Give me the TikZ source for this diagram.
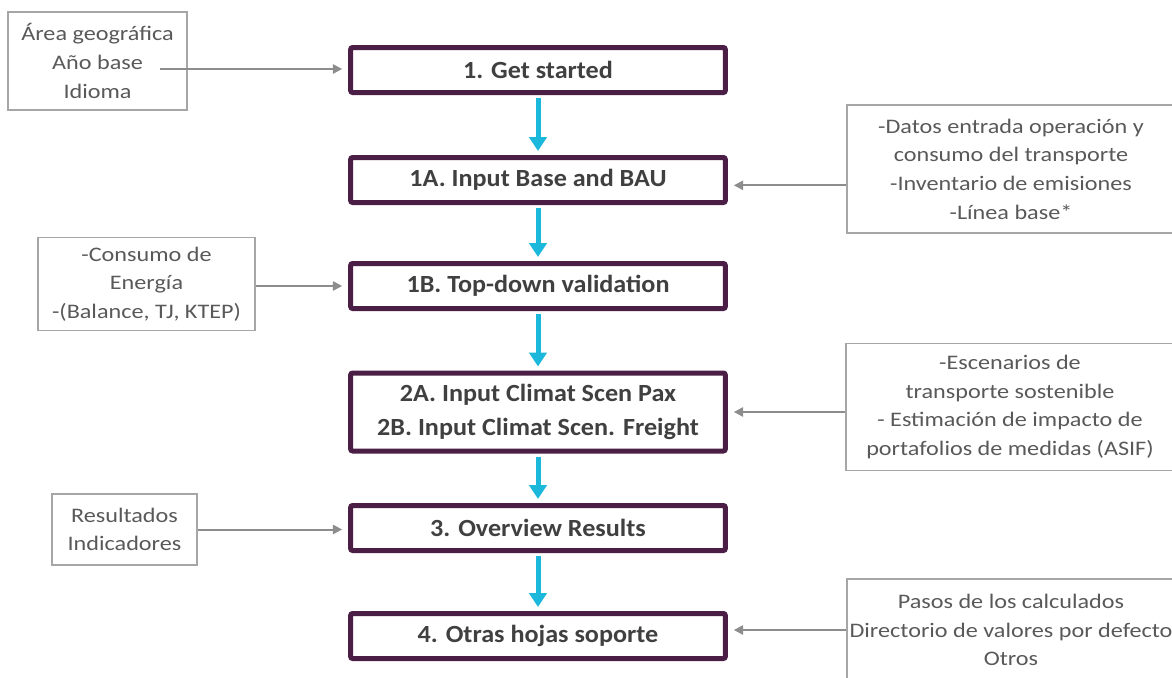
\documentclass[tikz,border=0pt]{standalone}
\usepackage{fontspec}
\setmainfont{Carlito}[FakeStretch=1.06]
\newfontfamily\notefont{Carlito}[FakeStretch=1.17]
\definecolor{plum}{HTML}{4B1F45}
\definecolor{sky}{HTML}{1BB8DC}
\definecolor{ink}{HTML}{404040}
\definecolor{greytext}{HTML}{595959}
\definecolor{greyline}{HTML}{A6A6A6}
\usetikzlibrary{arrows,arrows.meta,positioning}
\tikzstyle{stage}=[rectangle,draw=plum,line width=3.75pt,rounded corners=1.5pt,
fill=white,text=ink,font=\fontsize{18.5}{25.5}\selectfont\bfseries,
minimum width=281pt,minimum height=33.75pt,align=center,inner sep=0pt]
\tikzstyle{note}=[rectangle,draw=greyline,line width=1.1pt,text=greytext,
font=\notefont\fontsize{15.5}{21.5}\selectfont,align=center,inner sep=0pt]
\tikzstyle{flow}=[draw=sky,line width=3.75pt,-{Triangle[width=13pt,length=10.5pt]},
shorten <=2.25pt,shorten >=3pt]
\tikzstyle{feed}=[draw=greyline!85!black,line width=1.5pt,-{Triangle[width=7pt,length=7pt]},
shorten >=4.5pt]

\begin{document}
\begin{tikzpicture}[x=0.75pt,y=-0.75pt]
            \useasboundingbox (0,0) rectangle (1172,678);
            \clip (0,0) rectangle (1172,678);

            % STEPS

            \node[stage] (s1)  at (538,70)  {1. Get started};
            \node[stage] (s1a) at (538,180) {1A. Input Base and BAU};
            \node[stage] (s1b) at (538,286) {1B. Top-down validation};
            \node[stage,minimum height=58.5pt] (s2) at (538,412)
                {2A. Input Climat Scen Pax\\2B. Input Climat Scen. Freight};
            \node[stage] (s3)  at (538,528) {3. Overview Results};
            \node[stage] (s4)  at (538,636) {4. Otras hojas soporte};

            \draw[flow] (s1) -- (s1a);
            \draw[flow] (s1a) -- (s1b);
            \draw[flow] (s1b) -- (s2);
            \draw[flow] (s2) -- (s3);
            \draw[flow] (s3) -- (s4);

            % LEFT NOTES

            \node[note,minimum width=134pt,minimum height=73.5pt] (l1) at (97.5,61)
                {Área geográfica\\Año base\\Idioma};
            \node[note,minimum width=163pt,minimum height=70pt] (l2) at (146.5,284)
                {-Consumo de\\Energía\\-(Balance, TJ, KTEP)};
            \node[note,minimum width=109pt,minimum height=53pt] (l3) at (124.5,529.5)
                {Resultados\\Indicadores};
            \coordinate (l1tail) at (160,69);

            \draw[feed] (l1tail) -- (l1tail -| s1.west);
            \draw[feed] (l2.east |- s1b.west) -- (s1b.west);
            \draw[feed] (l3.east) -- (l3.east -| s3.west);

            % RIGHT NOTES

            \node[note,minimum width=246pt,minimum height=96pt] (r1) at (1011,169)
                {-Datos entrada operación y\\consumo del transporte\\-Inventario de emisiones\\-Línea base*};
            \node[note,minimum width=246pt,minimum height=95pt] (r2) at (1010,407)
                {-Escenarios de\\transporte sostenible\\- Estimación de impacto de\\portafolios de medidas (ASIF)};
            \node[note,minimum width=246pt,minimum height=76.5pt] (r3) at (1011,630)
                {Pasos de los calculados\\Directorio de valores por defecto\\Otros};

            \draw[feed] ([yshift=-4pt]r1.west |- s1a.east) -- ([yshift=-4pt]s1a.east);
            \draw[feed] (r2.west |- s2.east) -- (s2.east);
            \draw[feed] (r3.west) -- (r3.west -| s4.east);

        \end{tikzpicture}
\end{document}
